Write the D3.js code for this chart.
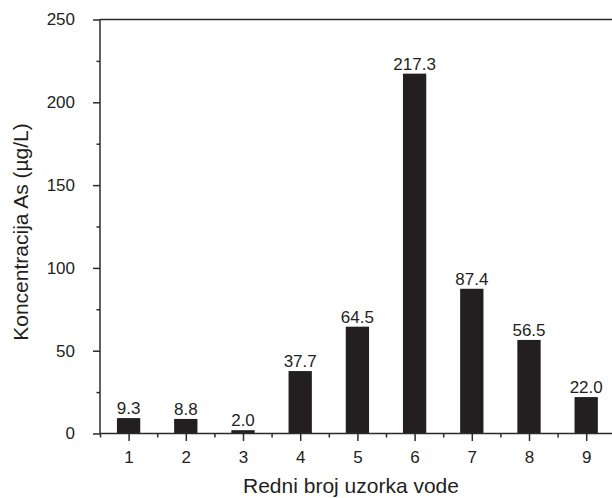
<!DOCTYPE html>
<html>
<head>
<meta charset="utf-8">
<script src="https://cdn.jsdelivr.net/npm/d3@7"></script>
<style>
  body { margin: 0; background: #fff; }
  text { font-family: "Liberation Sans", Arial, sans-serif; fill: #231f20; }
</style>
</head>
<body>
<div id="chart"></div>
<script>
const samples = [1, 2, 3, 4, 5, 6, 7, 8, 9];
const arsenic = [9.3, 8.8, 2.0, 37.7, 64.5, 217.3, 87.4, 56.5, 22.0];
const yTicks = [0, 50, 100, 150, 200, 250];
const yMinor = [25, 75, 125, 175, 225];
const xMinor = [0.5, 1.5, 2.5, 3.5, 4.5, 5.5, 6.5, 7.5, 8.5, 9.5];

const WIDTH = 612, HEIGHT = 498;
const LINE = "#2b2b2b";

const svg = d3.select("#chart").append("svg")
  .attr("width", WIDTH)
  .attr("height", HEIGHT);

const x = d3.scaleLinear().domain([0.5, 9.5]).range([100, 614.8]);
const y = d3.scaleLinear().domain([0, 250]).range([433.5, 19.5]);
const barW = 23.3;

// bars
svg.append("g").selectAll("rect")
  .data(samples)
  .enter().append("rect")
  .attr("x", (d) => x(d) - barW / 2)
  .attr("y", (d, i) => y(arsenic[i]))
  .attr("width", barW)
  .attr("height", (d, i) => y(0) - y(arsenic[i]))
  .attr("fill", "#231f20");

// value labels
svg.append("g").selectAll("text")
  .data(samples)
  .enter().append("text")
  .attr("x", (d) => x(d))
  .attr("y", (d, i) => y(arsenic[i]) - 4)
  .attr("text-anchor", "middle")
  .style("font-size", "17px")
  .text((d, i) => arsenic[i].toFixed(1));

// y axis
const yAxis = svg.append("g").attr("transform", "translate(100,0)");
yAxis.call(d3.axisLeft(y).tickValues(yTicks).tickSize(7).tickPadding(18));
yAxis.append("g").call(d3.axisLeft(y).tickValues(yMinor).tickSize(3.5).tickFormat(""));
yAxis.selectAll(".domain").remove();
yAxis.append("line")
  .attr("y1", y(0)).attr("y2", y(250))
  .attr("stroke", LINE).attr("stroke-width", 1.5);

// x axis
const xAxis = svg.append("g").attr("transform", `translate(0,${y(0)})`);
xAxis.call(d3.axisBottom(x).tickValues(samples).tickSize(7.5).tickPadding(10).tickFormat(d3.format("d")));
xAxis.append("g").call(d3.axisBottom(x).tickValues(xMinor).tickSize(4).tickFormat(""));
xAxis.selectAll(".domain").remove();
xAxis.append("line")
  .attr("x1", x(0.5)).attr("x2", x(9.5))
  .attr("stroke", LINE).attr("stroke-width", 1.5);

svg.selectAll(".tick line").attr("stroke", LINE).attr("stroke-width", 1.5);
svg.selectAll(".tick text")
  .style("font-size", "17px")
  .style("font-family", "'Liberation Sans', Arial, sans-serif")
  .attr("fill", "#231f20");

// top frame line
svg.append("line")
  .attr("x1", x(0.5)).attr("x2", x(9.5))
  .attr("y1", y(250)).attr("y2", y(250))
  .attr("stroke", LINE).attr("stroke-width", 1.5);

// axis titles
svg.append("text")
  .attr("x", 351)
  .attr("y", 493)
  .attr("text-anchor", "middle")
  .style("font-size", "21px")
  .text("Redni broj uzorka vode");

svg.append("text")
  .attr("transform", "translate(28,232) rotate(-90)")
  .attr("text-anchor", "middle")
  .style("font-size", "21px")
  .text("Koncentracija As (\u00b5g/L)");
</script>
</body>
</html>
